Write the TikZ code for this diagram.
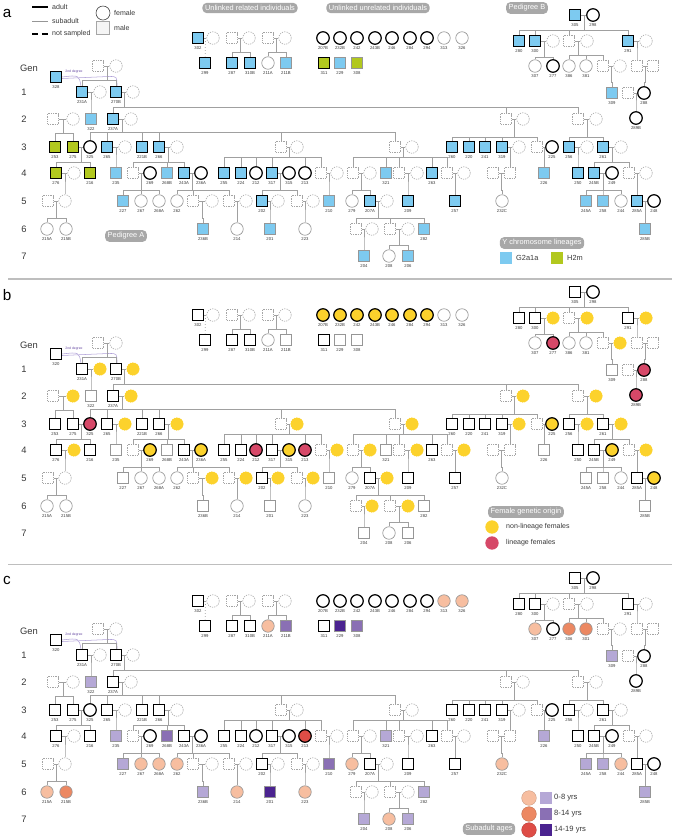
\documentclass[tikz,border=0pt]{standalone}
\usepackage{fontspec}
\setmainfont{Liberation Sans}
\usetikzlibrary{calc,backgrounds}
\definecolor{cblue}{RGB}{125,202,240}
\definecolor{cgreen}{RGB}{178,200,30}
\definecolor{cyel}{RGB}{252,210,44}
\definecolor{clin}{RGB}{214,72,104}
\definecolor{csal}{RGB}{247,190,160}
\definecolor{cora}{RGB}{236,136,98}
\definecolor{cred}{RGB}{222,77,70}
\definecolor{clav}{RGB}{181,168,214}
\definecolor{cpm}{RGB}{138,112,180}
\definecolor{cpd}{RGB}{75,35,144}
\definecolor{sgray}{RGB}{150,150,150}
\definecolor{ngray}{RGB}{165,165,165}
\definecolor{lgray}{RGB}{160,160,160}
\definecolor{boxgray}{RGB}{168,168,168}
\definecolor{degc}{RGB}{175,160,215}
\definecolor{degt}{RGB}{100,70,160}
\definecolor{txtc}{RGB}{55,55,55}
\definecolor{sepc}{RGB}{190,190,190}

\newcommand\fsz[1]{\fontsize{#1}{#1}\selectfont}
\newcommand\curpanel{a}
\def\whitec{white}
\newcommand\setcols[3]{\foreach \ii in {#3}{\expandafter\xdef\csname pc@#1@\ii\endcsname{#2}}}
\newcommand\indiv[5]{%
 \edef\tmpfill{\ifcsname pc@\curpanel @#1\endcsname\csname pc@\curpanel @#1\endcsname\else white\fi}%
 \edef\tmplab{\ifcsname pl@\curpanel @#1\endcsname\csname pl@\curpanel @#1\endcsname\else #1\fi}%
 \if#3A\def\tmpdraw{black}\else\if#3S\def\tmpdraw{sgray}\else\ifx\tmpfill\whitec\def\tmpdraw{ngray}\else\let\tmpdraw\tmpfill\fi\fi\fi
 \node[shp#2,st#3,fill=\tmpfill,draw=\tmpdraw] (#1) at (#4,#5) {};%
 \if#3N\else\node[idl] (#1-l) at ($(#1)+(0,9.8)$) {\tmplab};\fi
}
\newcommand\famly[4]{%
 \draw[pl] (#1) -- (#2);
 \coordinate (fm) at ($(#1)!0.5!(#2)$);
 \foreach \ch in {#4}{\draw[pl] (\ch) -- ++(0,-#3) -| (fm);}%
}

\tikzset{
 shps/.style={rectangle,minimum size=3.25mm,inner sep=0pt},
 shpc/.style={circle,minimum size=3.75mm,inner sep=0pt},
 stA/.style={line width=1.05pt},
 stS/.style={line width=0.55pt},
 stN/.style={line width=0.5pt,dash pattern=on 1.1pt off 0.9pt},
 idl/.style={font=\fsz{3.6},text=txtc,inner sep=0pt},
 pl/.style={draw=lgray,line width=0.6pt},
 gbox/.style={fill=boxgray,text=white,rounded corners=1.2mm,font=\fsz{6.3},inner xsep=2.2pt,inner ysep=2pt},
 ltxt/.style={font=\fsz{6},text=txtc,inner sep=0pt,anchor=west},
 genl/.style={font=\fsz{8},text=txtc,inner sep=0pt},
 plet/.style={font=\fsz{13},inner sep=0pt},
 deg/.style={draw=degc,line width=0.45pt},
}

% panel a colours
\setcols{a}{cblue}{302,299,287,310B,211B,229,305,280,300,291,309,328,231A,270B,322,237A,265,221B,266,260,220,241,319,256,261,235,268B,243A,255,224,317,321,263,226,250,245B,227,202,210,207A,209,257,245A,258,285A,236B,201,282,285B,204,206}
\setcols{a}{cgreen}{311,308,253,275,276,216}
% panel b colours
\setcols{b}{cyel}{207B,232B,242,243B,246,284,294,uB553,uB587,uB646,uB620,g1a,g1b,g2b,g2c,g2e,g2g,g3a,g3b,g3d,g3f,g3g,225,g3i,g3j,g4a,269,236A,315,g4d,g4f,g4h,g4j,249,g4n,g5d,g5f,g5g,g5i,g5j,248,g6b,g6d}
\setcols{b}{clin}{277,288,289B,325,212,213}
% panel c colours
\setcols{c}{csal}{211A,313,326,307,267,268A,262,279,232C,244,215A,214,223,208}
\setcols{c}{cora}{386,381,215B}
\setcols{c}{cred}{213}
\setcols{c}{clav}{322,235,321,226,227,245A,258,236B,282,285B,204,206,309}
\setcols{c}{cpm}{211B,308,268B,210}
\setcols{c}{cpd}{229,201}
\expandafter\def\csname pl@b@328\endcsname{320}
\expandafter\def\csname pl@c@328\endcsname{320}
\expandafter\def\csname pl@c@386\endcsname{306}
\expandafter\def\csname pl@c@381\endcsname{301}

\newcommand\pedigree{%
% unlinked related
\indiv{302}{s}{A}{198}{38}
\indiv{u302w}{c}{N}{213}{38}
\indiv{u287m}{s}{N}{232}{38}
\indiv{u287w}{c}{N}{249}{38}
\indiv{u211m}{s}{N}{268}{38}
\indiv{u211w}{c}{N}{285}{38}
\indiv{299}{s}{A}{205}{63}
\indiv{287}{s}{A}{232}{63}
\indiv{310B}{s}{A}{250}{63}
\indiv{211A}{c}{S}{268}{63}
\indiv{211B}{s}{S}{286}{63}
% unlinked unrelated
\indiv{207B}{c}{A}{323}{38}
\indiv{232B}{c}{A}{340}{38}
\indiv{242}{c}{A}{357}{38}
\indiv{243B}{c}{A}{375}{38}
\indiv{246}{c}{A}{392}{38}
\indiv{284}{c}{A}{410}{38}
\indiv{294}{c}{A}{427}{38}
\indiv{313}{c}{S}{444}{38}
\indiv{326}{c}{S}{462}{38}
\indiv{311}{s}{A}{324}{63}
\indiv{229}{s}{S}{340}{63}
\indiv{308}{s}{S}{357}{63}
% pedigree B
\indiv{305}{s}{A}{575}{15}
\indiv{298}{c}{A}{593}{15}
\indiv{280}{s}{A}{519}{41}
\indiv{300}{s}{A}{535}{41}
\indiv{uB553}{c}{N}{553}{41}
\indiv{uB569}{s}{N}{569}{41}
\indiv{uB587}{c}{N}{587}{41}
\indiv{291}{s}{A}{628}{41}
\indiv{uB646}{c}{N}{646}{41}
\indiv{307}{c}{S}{535}{66}
\indiv{277}{c}{A}{553}{66}
\indiv{386}{c}{S}{569}{66}
\indiv{381}{c}{S}{586}{66}
\indiv{uB603}{s}{N}{603}{66}
\indiv{uB620}{c}{N}{620}{66}
\indiv{uB637}{s}{N}{637}{66}
\indiv{uB653}{s}{N}{653}{66}
\indiv{309}{s}{S}{612}{93}
\indiv{uB628}{s}{N}{628}{93}
\indiv{288}{c}{A}{644}{93}
\indiv{289B}{c}{A}{636}{118}
% main pedigree
\indiv{g0m}{s}{N}{98}{66}
\indiv{g0w}{c}{N}{116}{66}
\indiv{328}{s}{A}{56}{77}
\indiv{231A}{s}{A}{82}{92}
\indiv{g1a}{c}{N}{100}{92}
\indiv{270B}{s}{A}{116}{92}
\indiv{g1b}{c}{N}{133}{92}
\indiv{g2a}{s}{N}{53}{119}
\indiv{g2b}{c}{N}{73}{119}
\indiv{322}{s}{S}{91}{119}
\indiv{237A}{s}{A}{113}{119}
\indiv{g2c}{c}{N}{131}{119}
\indiv{g2d}{s}{N}{506}{119}
\indiv{g2e}{c}{N}{523}{119}
\indiv{g2f}{s}{N}{578}{119}
\indiv{g2g}{c}{N}{596}{119}
% gen 3
\indiv{253}{s}{A}{55}{147}
\indiv{275}{s}{A}{73}{147}
\indiv{325}{c}{A}{90}{147}
\indiv{265}{s}{A}{107}{147}
\indiv{g3a}{c}{N}{125}{147}
\indiv{221B}{s}{A}{142}{147}
\indiv{266}{s}{A}{159}{147}
\indiv{g3b}{c}{N}{177}{147}
\indiv{g3c}{s}{N}{281}{147}
\indiv{g3d}{c}{N}{297}{147}
\indiv{g3e}{s}{N}{395}{147}
\indiv{g3f}{c}{N}{412}{147}
\indiv{260}{s}{A}{452}{147}
\indiv{220}{s}{A}{469}{147}
\indiv{241}{s}{A}{485}{147}
\indiv{319}{s}{A}{502}{147}
\indiv{g3g}{c}{N}{519}{147}
\indiv{g3h}{s}{N}{537}{147}
\indiv{225}{c}{A}{552}{147}
\indiv{256}{s}{A}{569}{147}
\indiv{g3i}{c}{N}{587}{147}
\indiv{261}{s}{A}{603}{147}
\indiv{g3j}{c}{N}{621}{147}
% gen 4
\indiv{276}{s}{A}{56}{173}
\indiv{g4a}{c}{N}{74}{173}
\indiv{216}{s}{A}{90}{173}
\indiv{235}{s}{S}{116}{173}
\indiv{g4b}{s}{N}{133}{173}
\indiv{269}{c}{A}{150}{173}
\indiv{268B}{s}{S}{167}{173}
\indiv{243A}{s}{A}{184}{173}
\indiv{236A}{c}{A}{201}{173}
\indiv{255}{s}{A}{224}{173}
\indiv{224}{s}{A}{241}{173}
\indiv{212}{c}{A}{256}{173}
\indiv{317}{s}{A}{272}{173}
\indiv{315}{c}{A}{289}{173}
\indiv{213}{c}{A}{305}{173}
\indiv{g4c}{s}{N}{321}{173}
\indiv{g4d}{c}{N}{337}{173}
\indiv{g4e}{s}{N}{353}{173}
\indiv{g4f}{c}{N}{370}{173}
\indiv{321}{s}{S}{386}{173}
\indiv{g4g}{s}{N}{399}{173}
\indiv{g4h}{c}{N}{417}{173}
\indiv{263}{s}{A}{432}{173}
\indiv{g4i}{s}{N}{447}{173}
\indiv{g4j}{c}{N}{464}{173}
\indiv{g4k}{s}{N}{493}{173}
\indiv{g4l}{s}{N}{510}{173}
\indiv{226}{s}{S}{544}{173}
\indiv{250}{s}{A}{578}{173}
\indiv{245B}{s}{A}{594}{173}
\indiv{249}{c}{A}{612}{173}
\indiv{g4m}{s}{N}{629}{173}
\indiv{g4n}{c}{N}{646}{173}
% gen 5
\indiv{g5a}{s}{N}{48}{201}
\indiv{g5b}{c}{N}{65}{201}
\indiv{227}{s}{S}{123}{201}
\indiv{267}{c}{S}{141}{201}
\indiv{268A}{c}{S}{159}{201}
\indiv{262}{c}{S}{177}{201}
\indiv{g5c}{s}{N}{193}{201}
\indiv{g5d}{c}{N}{212}{201}
\indiv{g5e}{s}{N}{229}{201}
\indiv{g5f}{c}{N}{246}{201}
\indiv{202}{s}{A}{262}{201}
\indiv{g5g}{c}{N}{278}{201}
\indiv{g5h}{s}{N}{297}{201}
\indiv{g5i}{c}{N}{313}{201}
\indiv{210}{s}{S}{329}{201}
\indiv{279}{c}{S}{352}{201}
\indiv{207A}{s}{A}{370}{201}
\indiv{g5j}{c}{N}{387}{201}
\indiv{209}{s}{A}{408}{201}
\indiv{257}{s}{A}{455}{201}
\indiv{232C}{c}{S}{502}{201}
\indiv{245A}{s}{S}{586}{201}
\indiv{258}{s}{S}{603}{201}
\indiv{244}{c}{S}{621}{201}
\indiv{285A}{s}{A}{637}{201}
\indiv{248}{c}{A}{654}{201}
% gen 6
\indiv{215A}{c}{S}{47}{229}
\indiv{215B}{c}{S}{66}{229}
\indiv{236B}{s}{S}{203}{229}
\indiv{214}{c}{S}{237}{229}
\indiv{201}{s}{S}{270}{229}
\indiv{223}{c}{S}{305}{229}
\indiv{g6a}{s}{N}{356}{229}
\indiv{g6b}{c}{N}{372}{229}
\indiv{g6c}{s}{N}{390}{229}
\indiv{g6d}{c}{N}{408}{229}
\indiv{282}{s}{S}{424}{229}
\indiv{285B}{s}{S}{645}{229}
% gen 7
\indiv{204}{s}{S}{364}{256}
\indiv{208}{c}{S}{389}{256}
\indiv{206}{s}{S}{408}{256}
% generation labels
\node[genl] (genh) at (29,68) {Gen};
\foreach \r/\yy in {1/92,2/119,3/147,4/173,5/201,6/229,7/256}{\node[genl] (gl\r) at (24,\yy) {\r};}
\node[font=\fsz{2.9},text=degt,inner sep=0pt] (degtx) at (74,71.3) {2nd degree};
\begin{pgfonlayer}{background}
\draw[deg] (328.east) .. controls ($(231A.north)+(-3,-11)$) .. ($(231A.north)+(-1,0)$);
\draw[deg] ($(328.east)+(0,1.5)$) -- ($(270B.north)+(-7,-9.5)$) .. controls ($(270B.north)+(1,-9.5)$) .. ($(270B.north)+(1,0)$);
\draw[pl] (302) -- (u302w);
\draw[pl,dotted] ($(302)!0.5!(u302w)$) -- (299);
\famly{u287m}{u287w}{11}{287,310B}
\famly{u211m}{u211w}{11}{211A,211B}
\famly{305}{298}{11}{280,300,uB569,291}
\famly{300}{uB553}{9}{307,277}
\famly{uB569}{uB587}{11}{386,381,uB603}
\famly{291}{uB646}{11}{uB637}
\famly{uB603}{uB620}{11}{309}
\famly{uB637}{uB653}{11}{288}
\famly{uB628}{288}{11}{289B}
\famly{g0m}{g0w}{12}{231A,270B}
\famly{231A}{g1a}{12}{322}
\famly{270B}{g1b}{12}{237A,g2d,g2f}
\famly{g2a}{g2b}{14}{253,275}
\famly{237A}{g2c}{15}{325,265,221B,266,g3c,g3e}
\famly{g2d}{g2e}{10}{260,220,241,319,g3h}
\famly{g2f}{g2g}{10}{256,261}
\famly{275}{325}{11}{276,216}
\famly{265}{g3a}{11}{235}
\famly{266}{g3b}{11}{g4b,268B,243A}
\famly{g3c}{g3d}{16}{255,224,212,317,213,g4c}
\famly{g3e}{g3f}{16}{g4e,321,g4g,263,g4i}
\famly{319}{g3g}{11}{g4l}
\famly{g3h}{225}{11}{226}
\famly{256}{g3i}{11}{250}
\famly{261}{g3j}{11}{245B,g4m}
\famly{276}{g4a}{11}{g5b}
\famly{g4b}{269}{11}{227,267,268A}
\famly{243A}{236A}{11}{262,g5c,g5e}
\famly{317}{315}{11}{202,g5h}
\famly{g4c}{g4d}{11}{210}
\famly{g4e}{g4f}{11}{279,207A}
\famly{g4g}{g4h}{11}{209}
\famly{g4i}{g4j}{11}{257}
\famly{g4k}{g4l}{11}{232C}
\famly{245B}{249}{11}{245A,258,244}
\famly{g4m}{g4n}{11}{285A}
\famly{g5a}{g5b}{11}{215A,215B}
\famly{g5c}{g5d}{11}{236B}
\famly{g5e}{g5f}{11}{214}
\famly{202}{g5g}{11}{201}
\famly{g5h}{g5i}{11}{223}
\famly{207A}{g5j}{11}{g6a,g6c,282}
\famly{285A}{248}{11}{285B}
\famly{g6a}{g6b}{11}{204}
\famly{g6c}{g6d}{11}{208,206}
\end{pgfonlayer}
}

\begin{document}
\begin{tikzpicture}[x=0.3mm,y=-0.3mm]
\useasboundingbox (0,0) rectangle (679,840);
% separators
\coordinate (s1a) at (8,279); \coordinate (s1b) at (672,279);
\coordinate (s2a) at (8,564.5); \coordinate (s2b) at (672,564.5);
\draw[sepc,line width=0.9pt] (s1a) -- (s1b);
\draw[sepc,line width=0.9pt] (s2a) -- (s2b);
% ---------------- panel a
\begin{scope}[name prefix=a-]
\def\curpanel{a}
\pedigree
\node[plet] (let) at (7,13) {a};
\coordinate (lg1a) at (32,7); \coordinate (lg1b) at (48,7);
\coordinate (lg2a) at (32,21); \coordinate (lg2b) at (48,21);
\coordinate (lg3a) at (32,34); \coordinate (lg3b) at (48,34);
\draw[black,line width=1.1pt] (lg1a) -- (lg1b);
\draw[sgray,line width=0.6pt] (lg2a) -- (lg2b);
\draw[black,line width=1.1pt,dash pattern=on 5pt off 3.4pt] (lg3a) -- (lg3b);
\node[ltxt] (lt1) at (52,6.5) {adult};
\node[ltxt] (lt2) at (52,21) {subadult};
\node[ltxt] (lt3) at (52,34) {not sampled};
\node[circle,draw=black!75,line width=0.5pt,minimum size=4.2mm,inner sep=0pt] (lgc) at (103,13) {};
\node[rectangle,draw=black!35,fill=black!4,line width=0.5pt,minimum size=3.8mm,inner sep=0pt] (lgs) at (103,28) {};
\node[ltxt] (lt4) at (114,12.5) {female};
\node[ltxt] (lt5) at (114,27.5) {male};
\node[gbox] (bx1) at (250,8) {Unlinked related individuals};
\node[gbox] (bx2) at (378,8) {Unlinked unrelated individuals};
\node[gbox] (bx3) at (527,8) {Pedigree B};
\node[gbox] (bx4) at (126,236) {Pedigree A};
\node[gbox] (bx5) at (542,243) {Y chromosome lineages};
\node[rectangle,fill=cblue,minimum size=3.6mm,inner sep=0pt] (ly1) at (506,258) {};
\node[ltxt,font=\fsz{6.3}] (lyt1) at (516,258) {G2a1a};
\node[rectangle,fill=cgreen,minimum size=3.6mm,inner sep=0pt] (ly2) at (557,258) {};
\node[ltxt,font=\fsz{6.3}] (lyt2) at (567,258) {H2m};
\end{scope}
% ---------------- panel b
\begin{scope}[shift={(0,277)},name prefix=b-]
\def\curpanel{b}
\pedigree
\node[plet] (let) at (7,18) {b};
\node[gbox] (bx1) at (526,235) {Female genetic origin};
\node[circle,fill=cyel,minimum size=4mm,inner sep=0pt] (lf1) at (492,250) {};
\node[ltxt] (lft1) at (506,250) {non-lineage females};
\node[circle,fill=clin,minimum size=4mm,inner sep=0pt] (lf2) at (492,266) {};
\node[ltxt] (lft2) at (506,266) {lineage females};
\end{scope}
% ---------------- panel c
\begin{scope}[shift={(0,563)},name prefix=c-]
\def\curpanel{c}
\pedigree
\node[plet] (let) at (7,17) {c};
\node[gbox] (bx1) at (489,266) {Subadult ages};
\node[circle,fill=csal,draw=csal!80!black,line width=0.3pt,minimum size=4.4mm,inner sep=0pt] (la1) at (529,235) {};
\node[circle,fill=cora,draw=cora!80!black,line width=0.3pt,minimum size=4.4mm,inner sep=0pt] (la2) at (529,251) {};
\node[circle,fill=cred,draw=cred!80!black,line width=0.3pt,minimum size=4.4mm,inner sep=0pt] (la3) at (529,267) {};
\node[rectangle,fill=clav,minimum size=3.6mm,inner sep=0pt] (lq1) at (546,235) {};
\node[rectangle,fill=cpm,minimum size=3.6mm,inner sep=0pt] (lq2) at (546,251) {};
\node[rectangle,fill=cpd,minimum size=3.6mm,inner sep=0pt] (lq3) at (546,267) {};
\node[ltxt,font=\fsz{6.5}] (lat1) at (554,235) {0-8 yrs};
\node[ltxt,font=\fsz{6.5}] (lat2) at (554,251) {8-14 yrs};
\node[ltxt,font=\fsz{6.5}] (lat3) at (554,267) {14-19 yrs};
\end{scope}
\end{tikzpicture}
\end{document}
